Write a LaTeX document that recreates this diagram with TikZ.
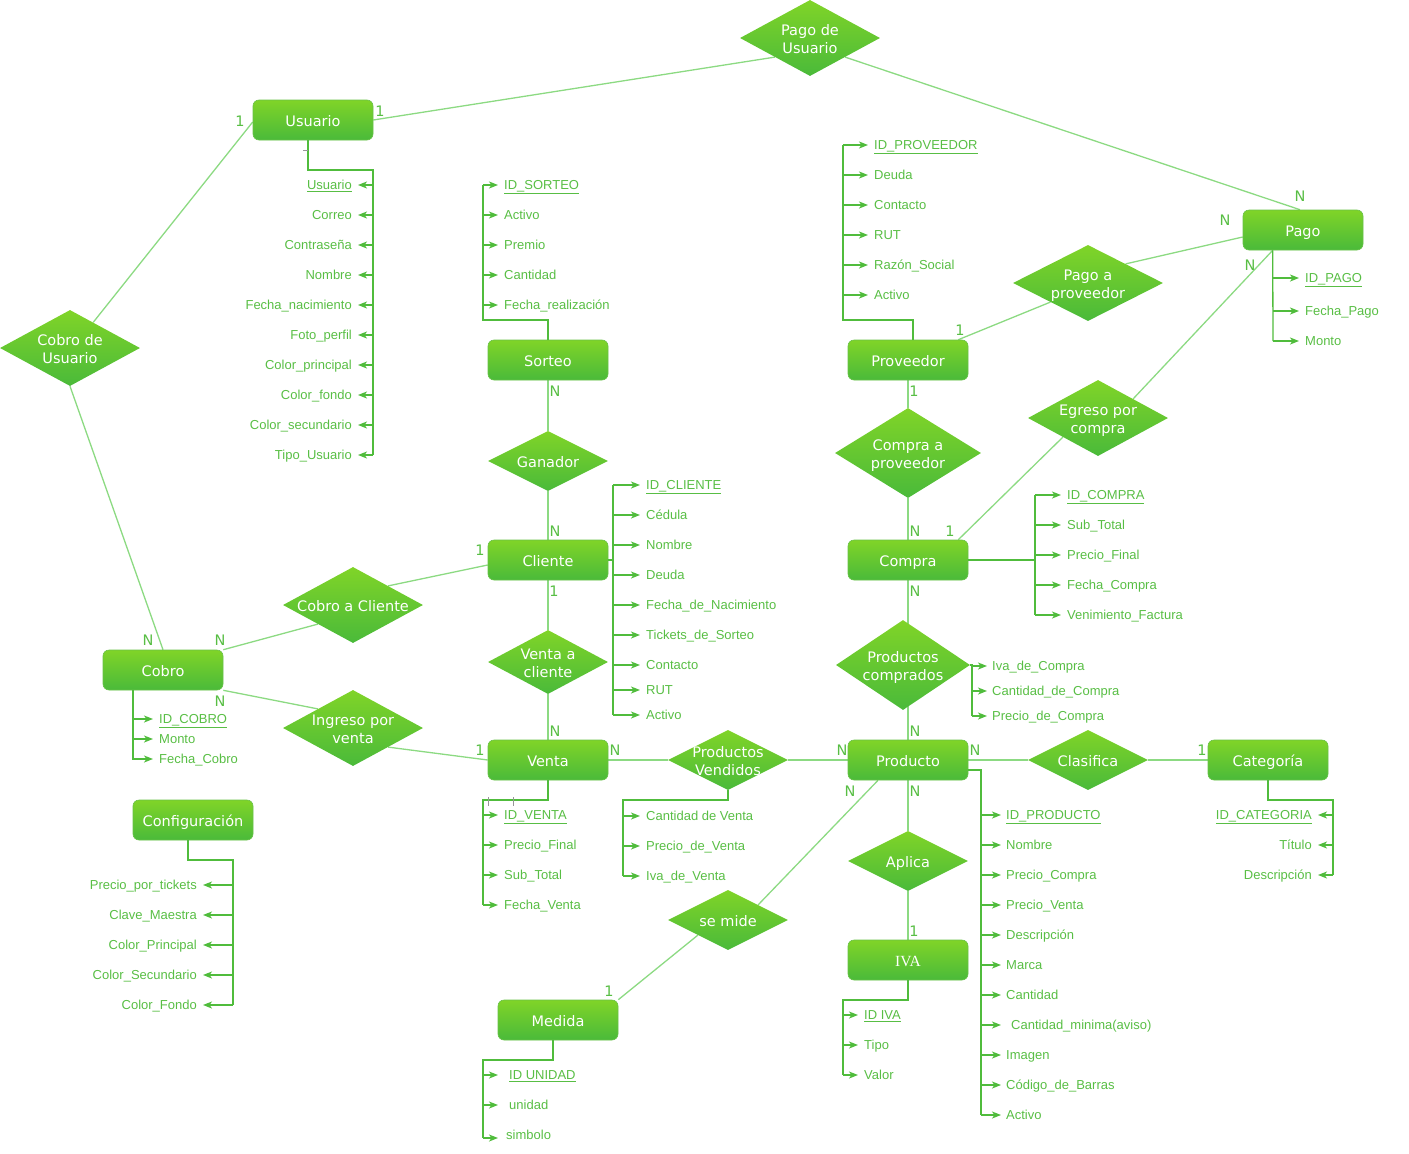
\documentclass[tikz,border=0pt]{standalone}
\usepackage{fontspec}
\setmainfont{Liberation Sans}
\newfontfamily\dejavu{DejaVu Sans}
\newfontfamily\serifF{Liberation Serif}
\usetikzlibrary{shapes.geometric,arrows.meta,calc}
\definecolor{entTop}{RGB}{128,212,40}
\definecolor{entBot}{RGB}{74,186,58}
\definecolor{entBorder}{RGB}{104,194,72}
\definecolor{relLine}{RGB}{140,218,130}
\definecolor{attrLine}{RGB}{80,188,60}
\definecolor{attrText}{RGB}{88,190,68}
\definecolor{tickGray}{RGB}{150,150,150}
\newcommand\entfont{\dejavu\fontsize{14.5}{18}\selectfont}
\newcommand\attrfont{\fontsize{13}{15}\selectfont}
\newcommand\cardfont{\dejavu\fontsize{14.5}{16}\selectfont}
\newcommand\dtxt[1]{\makebox[0pt]{\raisebox{-6.3pt}[0pt][0pt]{\begin{tabular}{@{}c@{}}#1\end{tabular}}}}
\pgfdeclarelayer{bg}
\pgfsetlayers{bg,main}
\tikzset{
  ent/.style={rectangle, rounded corners=6pt, minimum width=120pt, minimum height=40pt,
    top color=entTop, bottom color=entBot, draw=entBorder, line width=0.6pt,
    text=white, font=\entfont, inner sep=0pt, text height=13.6pt, text depth=0pt},
  rel/.style={diamond, inner sep=0pt, top color=entTop, bottom color=entBot,
    text=white, font=\entfont},
  rline/.style={draw=relLine, line width=1.3pt},
  aline/.style={draw=attrLine, line width=1.3pt},
  aarrow/.style={draw=attrLine, line width=1.3pt, -{Stealth[length=9pt,width=7pt,inset=2.5pt]}},
  attr/.style={inner sep=0pt, text=attrText, font=\attrfont, text height=9.3pt, text depth=0pt},
  card/.style={inner sep=0pt, text=attrText, font=\cardfont},
}
\begin{document}
\begin{tikzpicture}[x=1pt,y=-1pt]
\useasboundingbox (0,0) rectangle (1409,1154);

% ---------- entities
\node[ent] (usu) at (313,120) {Usuario};
\node[ent] (sor) at (548,360) {Sorteo};
\node[ent] (prov) at (908,360) {Proveedor};
\node[ent] (pago) at (1303,230) {Pago};
\node[ent] (cli) at (548,560) {Cliente};
\node[ent] (comp) at (908,560) {Compra};
\node[ent] (cob) at (163,670) {Cobro};
\node[ent] (ven) at (548,760) {Venta};
\node[ent] (prod) at (908,760) {Producto};
\node[ent] (cat) at (1268,760) {Categoría};
\node[ent] (conf) at (193,820) {Configuración};
\node[ent, font=\serifF\fontsize{15.5}{18}\selectfont] (iva) at (908,960) {IVA};
\node[ent] (med) at (558,1020) {Medida};

% ---------- relationships
\node[rel, minimum width=140pt, minimum height=76pt] (pu) at (810,38) {\dtxt{Pago de\\Usuario}};
\node[rel, minimum width=140pt, minimum height=76pt] (cu) at (70,348) {\dtxt{Cobro de\\Usuario}};
\node[rel, minimum width=150pt, minimum height=76pt] (ppr) at (1088,283) {\dtxt{Pago a\\proveedor}};
\node[rel, minimum width=140pt, minimum height=76pt] (eg) at (1098,418) {\dtxt{Egreso por\\compra}};
\node[rel, minimum width=120pt, minimum height=60pt] (gan) at (548,461) {\dtxt{Ganador}};
\node[rel, minimum width=146pt, minimum height=90pt] (cpr) at (908,453) {\dtxt{Compra a\\proveedor}};
\node[rel, minimum width=140pt, minimum height=76pt] (cc) at (353,605) {\dtxt{Cobro a Cliente}};
\node[rel, minimum width=120pt, minimum height=64pt] (vc) at (548,662) {\dtxt{Venta a\\cliente}};
\node[rel, minimum width=140pt, minimum height=76pt] (ing) at (353,728) {\dtxt{Ingreso por\\venta}};
\node[rel, minimum width=134pt, minimum height=90pt] (pc) at (903,665) {\dtxt{Productos\\comprados}};
\node[rel, minimum width=120pt, minimum height=60pt] (pv) at (728,760) {\dtxt{Productos\\Vendidos}};
\node[rel, minimum width=120pt, minimum height=60pt] (cla) at (1088,760) {\dtxt{Clasifica}};
\node[rel, minimum width=120pt, minimum height=60pt] (apl) at (908,861) {\dtxt{Aplica}};
\node[rel, minimum width=120pt, minimum height=60pt] (sm) at (728,920) {\dtxt{se mide}};

% ---------- relationship lines
\begin{pgfonlayer}{bg}
\draw[rline] (usu.east) -- (pu.south west);
\draw[rline] (pu.south east) -- ($(pago.north)+(-3,0)$);
\draw[rline] ($(usu.west)+(0,2)$) -- ($(cu.north)!0.33!(cu.east)$);
\draw[rline] (cu.south) -- (cob.north);
\draw[rline] ($(pago.west)+(0,7)$) -- (ppr.north east);
\draw[rline] (ppr.south west) -- ($(prov.north east)+(-10,0)$);
\draw[rline] ($(pago.south west)+(30,0)$) -- (eg.north east);
\draw[rline] (eg.south west) -- ($(comp.north east)+(-10,0)$);
\draw[rline] (sor.south) -- (gan.north);
\draw[rline] (gan.south) -- (cli.north);
\draw[rline] (prov.south) -- (cpr.north);
\draw[rline] (cpr.south) -- (comp.north);
\draw[rline] ($(cli.west)+(0,5)$) -- (cc.north east);
\draw[rline] (cc.south west) -- (cob.north east);
\draw[rline] (cli.south) -- (vc.north);
\draw[rline] (vc.south) -- (ven.north);
\draw[rline] (cob.south east) -- (ing.north west);
\draw[rline] (ing.south east) -- (ven.west);
\draw[rline] (ven.east) -- (pv.west);
\draw[rline] (pv.east) -- (prod.west);
\draw[rline] (comp.south) -- (prod.north);
\draw[rline] (prod.east) -- (cla.west);
\draw[rline] (cla.east) -- (cat.west);
\draw[rline] (prod.south) -- (apl.north);
\draw[rline] (apl.south) -- (iva.north);
\draw[rline] ($(prod.south)+(-30,0)$) -- (sm.north east);
\draw[rline] (sm.south west) -- (med.north east);
\end{pgfonlayer}

% ---------- cardinalities
\node[card] (k1) at (240,121) {1};
\node[card] (k2) at (380,111) {1};
\node[card] (k3) at (1300,196) {N};
\node[card] (k4) at (1225,220) {N};
\node[card] (k5) at (1250,265) {N};
\node[card] (k6) at (960,330) {1};
\node[card] (k7) at (950,531) {1};
\node[card] (k8) at (555,391) {N};
\node[card] (k9) at (555,531) {N};
\node[card] (k10) at (914,391) {1};
\node[card] (k11) at (915,531) {N};
\node[card] (k12) at (480,550) {1};
\node[card] (k13) at (554,591) {1};
\node[card] (k14) at (555,731) {N};
\node[card] (k15) at (148,640) {N};
\node[card] (k16) at (220,640) {N};
\node[card] (k17) at (220,701) {N};
\node[card] (k18) at (480,750) {1};
\node[card] (k19) at (615,750) {N};
\node[card] (k20) at (842,750) {N};
\node[card] (k21) at (915,591) {N};
\node[card] (k22) at (915,731) {N};
\node[card] (k23) at (975,750) {N};
\node[card] (k24) at (1202,750) {1};
\node[card] (k25) at (850,791) {N};
\node[card] (k26) at (915,791) {N};
\node[card] (k27) at (914,931) {1};
\node[card] (k28) at (609,991) {1};

% ---------- attribute trees
% Usuario
\coordinate (usS) at (373,170);
\draw[aline] ($(usu.south)+(-5,0)$) |- (usS) -- (373,455);
\draw[tickGray, line width=0.8pt] (303,150) -- (308,150);
\foreach \y/\n/\t in {185/ua1/{\underline{Usuario}},215/ua2/Correo,245/ua3/Contraseña,275/ua4/Nombre,305/ua5/Fecha\_nacimiento,335/ua6/Foto\_perfil,365/ua7/Color\_principal,395/ua8/Color\_fondo,425/ua9/Color\_secundario,455/ua10/Tipo\_Usuario}{
  \node[attr, anchor=east] (\n) at (352,\y) {\t};
  \draw[aarrow] (\n.east -| usS) -- ([xshift=6pt]\n.east);
}
% Sorteo
\coordinate (soS) at (483,320);
\draw[aline] (sor.north) |- (soS) -- (483,185);
\foreach \y/\n/\t in {185/sa1/{\underline{ID\_SORTEO}},215/sa2/Activo,245/sa3/Premio,275/sa4/Cantidad,305/sa5/Fecha\_realización}{
  \node[attr, anchor=west] (\n) at (504,\y) {\t};
  \draw[aarrow] (\n.west -| soS) -- ([xshift=-6pt]\n.west);
}
% Proveedor
\coordinate (prS) at (843,320);
\draw[aline] ($(prov.north)+(5,0)$) |- (prS) -- (843,145);
\foreach \y/\n/\t in {145/pa1/{\underline{ID\_PROVEEDOR}},175/pa2/Deuda,205/pa3/Contacto,235/pa4/RUT,265/pa5/Razón\_Social,295/pa6/Activo}{
  \node[attr, anchor=west] (\n) at (874,\y) {\t};
  \draw[aarrow] (\n.west -| prS) -- ([xshift=-6pt]\n.west);
}
% Pago
\coordinate (paS) at (1273,341);
\draw[aline] ($(pago.south west)+(30,0)$) -- (paS);
\foreach \y/\n/\t in {278/ga1/{\underline{ID\_PAGO}},311/ga2/Fecha\_Pago,341/ga3/Monto}{
  \node[attr, anchor=west] (\n) at (1305,\y) {\t};
  \draw[aarrow] (\n.west -| paS) -- ([xshift=-6pt]\n.west);
}
% Cliente
\coordinate (clS) at (613,560);
\draw[aline] (cli.east) -- (clS);
\draw[aline] (613,485) -- (613,715);
\foreach \y/\n/\t in {485/ca1/{\underline{ID\_CLIENTE}},515/ca2/Cédula,545/ca3/Nombre,575/ca4/Deuda,605/ca5/Fecha\_de\_Nacimiento,635/ca6/Tickets\_de\_Sorteo,665/ca7/Contacto,690/ca8/RUT,715/ca9/Activo}{
  \node[attr, anchor=west] (\n) at (646,\y) {\t};
  \draw[aarrow] (\n.west -| clS) -- ([xshift=-6pt]\n.west);
}
% Compra
\coordinate (coS) at (1035,560);
\draw[aline] (comp.east) -- (coS);
\draw[aline] (1035,495) -- (1035,615);
\foreach \y/\n/\t in {495/oa1/{\underline{ID\_COMPRA}},525/oa2/Sub\_Total,555/oa3/Precio\_Final,585/oa4/Fecha\_Compra,615/oa5/Venimiento\_Factura}{
  \node[attr, anchor=west] (\n) at (1067,\y) {\t};
  \draw[aarrow] (\n.west -| coS) -- ([xshift=-6pt]\n.west);
}
% Productos comprados
\coordinate (pcS) at (972,665);
\draw[aline] (pc.east) -- (pcS) -- (972,716);
\foreach \y/\n/\t in {666/ka1/Iva\_de\_Compra,691/ka2/Cantidad\_de\_Compra,716/ka3/Precio\_de\_Compra}{
  \node[attr, anchor=west] (\n) at (992,\y) {\t};
  \draw[aarrow] (\n.west -| pcS) -- ([xshift=-5pt]\n.west);
}
% Cobro
\coordinate (cbS) at (133,760);
\draw[aline] ($(cob.south)+(-30,0)$) -- (cbS);
\foreach \y/\n/\t in {719/ba1/{\underline{ID\_COBRO}},739/ba2/Monto,759/ba3/Fecha\_Cobro}{
  \node[attr, anchor=west] (\n) at (159,\y) {\t};
  \draw[aarrow] (\n.west -| cbS) -- ([xshift=-6pt]\n.west);
}
% Venta
\coordinate (veS) at (483,800);
\draw[aline] (ven.south) |- (veS) -- (483,905);
\draw[tickGray, line width=0.8pt] (488,797) -- (488,806);
\draw[tickGray, line width=0.8pt] (513,797) -- (513,806);
\foreach \y/\n/\t in {815/va1/{\underline{ID\_VENTA}},845/va2/Precio\_Final,875/va3/Sub\_Total,905/va4/Fecha\_Venta}{
  \node[attr, anchor=west] (\n) at (504,\y) {\t};
  \draw[aarrow] (\n.west -| veS) -- ([xshift=-6pt]\n.west);
}
% Productos Vendidos
\coordinate (pvS) at (623,800);
\draw[aline] (pv.south) |- (pvS) -- (623,876);
\foreach \y/\n/\t in {816/wa1/Cantidad de Venta,846/wa2/Precio\_de\_Venta,876/wa3/Iva\_de\_Venta}{
  \node[attr, anchor=west] (\n) at (646,\y) {\t};
  \draw[aarrow] (\n.west -| pvS) -- ([xshift=-6pt]\n.west);
}
% Producto
\coordinate (pdS) at (981,770);
\draw[aline] ($(prod.east)+(0,10)$) -- (pdS) -- (981,1115);
\foreach \y/\n/\t in {815/da1/{\underline{ID\_PRODUCTO}},845/da2/Nombre,875/da3/Precio\_Compra,905/da4/Precio\_Venta,935/da5/Descripción,965/da6/Marca,995/da7/Cantidad,1055/da9/Imagen,1085/da10/Código\_de\_Barras,1115/da11/Activo}{
  \node[attr, anchor=west] (\n) at (1006,\y) {\t};
  \draw[aarrow] (\n.west -| pdS) -- ([xshift=-5pt]\n.west);
}
\node[attr, anchor=west] (da8) at (1011,1025) {Cantidad\_minima(aviso)};
\draw[aarrow] (da8.west -| pdS) -- ([xshift=-10pt]da8.west);
% Categoria
\coordinate (caS) at (1333,800);
\draw[aline] (cat.south) |- (caS) -- (1333,875);
\foreach \y/\n/\t in {815/ta1/{\underline{ID\_CATEGORIA}},845/ta2/Título,875/ta3/Descripción}{
  \node[attr, anchor=east] (\n) at (1312,\y) {\t};
  \draw[aarrow] (\n.east -| caS) -- ([xshift=6pt]\n.east);
}
% Configuracion
\coordinate (cfS) at (233,860);
\draw[aline] ($(conf.south)+(-5,0)$) |- (cfS) -- (233,1005);
\foreach \y/\n/\t in {885/fa1/Precio\_por\_tickets,915/fa2/Clave\_Maestra,945/fa3/Color\_Principal,975/fa4/Color\_Secundario,1005/fa5/Color\_Fondo}{
  \node[attr, anchor=east] (\n) at (197,\y) {\t};
  \draw[aarrow] (\n.east -| cfS) -- ([xshift=6pt]\n.east);
}
% IVA
\coordinate (ivS) at (843,1000);
\draw[aline] (iva.south) |- (ivS) -- (843,1075);
\foreach \y/\n/\t in {1015/ia1/{\underline{ID IVA}},1045/ia2/Tipo,1075/ia3/Valor}{
  \node[attr, anchor=west] (\n) at (864,\y) {\t};
  \draw[aarrow] (\n.west -| ivS) -- ([xshift=-6pt]\n.west);
}
% Medida
\coordinate (meS) at (483,1060);
\draw[aline] ($(med.south)+(-5,0)$) |- (meS) -- (483,1138);
\foreach \y/\n/\t/\x in {1075/ma1/{\underline{ID UNIDAD}}/509,1105/ma2/unidad/509,1135/ma3/simbolo/506}{
  \node[attr, anchor=west] (\n) at (\x,\y) {\t};
}
\draw[aarrow] (ma1.west -| meS) -- (498,1075);
\draw[aarrow] (ma2.west -| meS) -- (498,1105);
\draw[aarrow] (483,1138) -- (498,1138);
\end{tikzpicture}
\end{document}
